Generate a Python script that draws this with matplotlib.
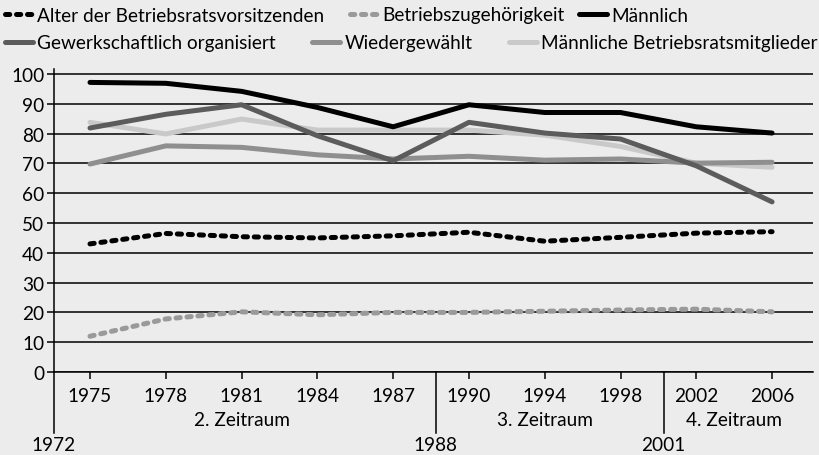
import matplotlib
matplotlib.use('Agg')
import matplotlib.pyplot as plt
from matplotlib.lines import Line2D
import matplotlib.transforms as mtransforms

plt.rcParams['font.family'] = ['Lato', 'DejaVu Sans']

years = ['1975', '1978', '1981', '1984', '1987', '1990', '1994', '1998', '2002', '2006']
alter = [43.0, 46.5, 45.4, 45.0, 45.7, 46.9, 43.9, 45.2, 46.6, 47.1]
zugehoerigkeit = [12.0, 17.8, 20.2, 19.2, 20.0, 20.0, 20.4, 20.8, 21.1, 20.2]
maennlich = [97.2, 96.9, 94.2, 88.8, 82.3, 89.7, 87.1, 87.1, 82.3, 80.2]
gewerkschaft = [81.9, 86.5, 89.7, 79.3, 70.9, 83.8, 80.2, 78.2, 69.2, 57.1]
wiedergewaehlt = [69.8, 75.9, 75.4, 72.9, 71.5, 72.4, 71.1, 71.5, 70.1, 70.4]
maennl_mitglieder = [83.8, 79.9, 84.9, 81.2, 81.2, 81.2, 79.5, 75.7, 70.1, 68.7]

periods = ['2. Zeitraum', '3. Zeitraum', '4. Zeitraum']
period_pos = [2, 6, 8.5]
boundaries = ['1972', '1988', '2001']
boundary_pos = [-0.475, 4.56, 7.57]
yticks = [0, 10, 20, 30, 40, 50, 60, 70, 80, 90, 100]

W, H = 819, 456
BG = '#ececec'
FS = 13.7
fig = plt.figure(figsize=(W / 100, H / 100), dpi=100, facecolor=BG)
ax = fig.add_axes([54 / W, 1 - 373 / H, (813 - 54) / W, (373 - 70) / H])
ax.set_facecolor(BG)

x = list(range(len(years)))
LW = 3.6
solid = dict(lw=LW, solid_capstyle='round', solid_joinstyle='round')
dotted = dict(lw=LW, linestyle=(0, (0.85, 1.35)), dash_capstyle='round')

series = [
    ('Männliche Betriebsratsmitglieder', maennl_mitglieder, '#c9c9c9', solid),
    ('Wiedergewählt', wiedergewaehlt, '#8f8f8f', solid),
    ('Gewerkschaftlich organisiert', gewerkschaft, '#5c5c5c', solid),
    ('Männlich', maennlich, '#000000', solid),
    ('Betriebszugehörigkeit', zugehoerigkeit, '#9a9a9a', dotted),
    ('Alter der Betriebsratsvorsitzenden', alter, '#000000', dotted),
]
handles = {}
for name, vals, col, st in series:
    ax.plot(x, vals, color=col, zorder=3, **st)
    handles[name] = Line2D([], [], color=col, **st)

ax.set_xlim(-0.475, 9.54)
ax.set_ylim(0, 101.7)
ax.set_yticks(yticks)
ax.set_yticklabels([str(v) for v in yticks])
ax.set_xticks(x)
ax.set_xticklabels(years)
ax.grid(axis='y', color='black', lw=1.1, zorder=1)
ax.set_axisbelow(True)
for s in ['top', 'right']:
    ax.spines[s].set_visible(False)
ax.spines['left'].set_linewidth(1.1)
ax.spines['bottom'].set_linewidth(1.1)
ax.tick_params(axis='y', length=5, width=1.1, pad=2, labelsize=FS)
ax.tick_params(axis='x', length=5, width=1.1, pad=6, labelsize=FS)

tpx = mtransforms.blended_transform_factory(ax.transData, fig.transFigure)
for b, p in zip(boundaries, boundary_pos):
    ax.plot([p, p], [1 - 373 / H, 1 - 434 / H], color='black', lw=1.1,
            transform=tpx, clip_on=False)
    fig.text(p, 1 - 446 / H, b, fontsize=FS, ha='center', va='center',
             transform=tpx)
for ptxt, p in zip(periods, period_pos):
    fig.text(p, 1 - 421 / H, ptxt, fontsize=FS, ha='center', va='center',
             transform=tpx)

entries = [
    ('Alter der Betriebsratsvorsitzenden', 5, 16),
    ('Betriebszugehörigkeit', 350, 16),
    ('Männlich', 579, 16),
    ('Gewerkschaftlich organisiert', 5, 44),
    ('Wiedergewählt', 312, 44),
    ('Männliche Betriebsratsmitglieder', 509, 44),
]
for name, px, py in entries:
    fig.legend(handles=[handles[name]], labels=[name], loc='center left',
               bbox_to_anchor=(px / W, 1 - py / H), frameon=False,
               borderpad=0, borderaxespad=0, handlelength=1.45,
               handletextpad=0.25, fontsize=FS)

fig.savefig('out.png', dpi=100, facecolor=BG)
